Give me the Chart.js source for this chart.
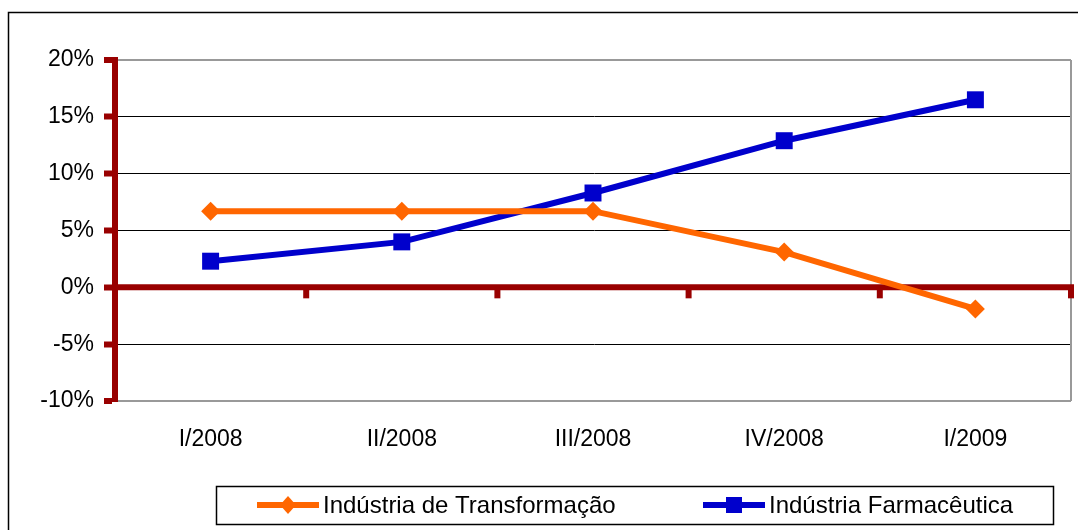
<!DOCTYPE html>
<html>
<head>
<meta charset="utf-8">
<script src="https://cdn.jsdelivr.net/npm/chart.js@4.4.1/dist/chart.umd.min.js"></script>
<style>
  html, body { margin: 0; padding: 0; background: #fff; }
  #wrap { position: relative; width: 1078px; height: 530px; }
</style>
</head>
<body>
<div id="wrap"><canvas id="c" width="1078" height="530"></canvas></div>
<script>
// Quarterly growth rates (%)
const quarters = ['I/2008', 'II/2008', 'III/2008', 'IV/2008', 'I/2009'];
const transformacao = [6.7, 6.7, 6.7, 3.1, -1.9];
const farmaceutica = [2.3, 4.0, 8.3, 12.9, 16.5];
const yTickValues = [-10, -5, 0, 5, 10, 15, 20];
const seriesNames = ['Indústria de Transformação', 'Indústria Farmacêutica'];

const AXIS_RED = '#990000';
const FONT = 'Liberation Sans, Arial, sans-serif';

// Frame around the whole chart object
const framePlugin = {
  id: 'frame',
  beforeDraw(chart) {
    const ctx = chart.ctx;
    ctx.save();
    ctx.strokeStyle = '#000';
    ctx.lineWidth = 1.5;
    ctx.strokeRect(8.5, 12.5, 1200, 700);
    ctx.restore();
  }
};

// Zero line with category tick marks, plus right edge of the plot area
const zeroAxisPlugin = {
  id: 'zeroAxis',
  beforeDatasetsDraw(chart) {
    const { ctx, chartArea, scales } = chart;
    const x = scales.x, y = scales.y;
    ctx.save();
    // right border of plot area
    ctx.strokeStyle = '#999';
    ctx.lineWidth = 2;
    ctx.beginPath();
    ctx.moveTo(chartArea.right, chartArea.top);
    ctx.lineTo(chartArea.right, chartArea.bottom);
    ctx.stroke();

    const y0 = y.getPixelForValue(0);
    ctx.strokeStyle = AXIS_RED;
    ctx.lineWidth = 6;
    ctx.beginPath();
    ctx.moveTo(chartArea.left, y0);
    ctx.lineTo(chartArea.right + 3, y0);
    ctx.stroke();
    // tick marks at category boundaries
    const step = (x.getPixelForValue(1) - x.getPixelForValue(0));
    ctx.lineWidth = 6;
    for (let i = 0; i < quarters.length; i++) {
      const bx = x.getPixelForValue(i) + step / 2;
      ctx.beginPath();
      ctx.moveTo(bx, y0);
      ctx.lineTo(bx, y0 + 11);
      ctx.stroke();
    }
    ctx.restore();
  }
};

// Boxed legend showing line + marker for each series
const boxLegendPlugin = {
  id: 'boxLegend',
  afterDraw(chart) {
    const ctx = chart.ctx;
    const box = { left: 216, top: 486, right: 1053, bottom: 524 };
    const cy = 505;
    ctx.save();
    ctx.strokeStyle = '#000';
    ctx.lineWidth = 1.5;
    ctx.strokeRect(box.left + 0.5, box.top + 0.5, box.right - box.left, box.bottom - box.top);

    const entries = [
      { x0: 257, x1: 319, tx: 323 },
      { x0: 703, x1: 765, tx: 769 }
    ];
    chart.data.datasets.forEach((ds, i) => {
      const e = entries[i];
      ctx.strokeStyle = ds.borderColor;
      ctx.lineWidth = 6;
      ctx.beginPath();
      ctx.moveTo(e.x0, cy);
      ctx.lineTo(e.x1, cy);
      ctx.stroke();
      const cx = (e.x0 + e.x1) / 2;
      ctx.fillStyle = ds.pointBackgroundColor;
      ctx.beginPath();
      if (ds.pointStyle === 'rectRot') {
        ctx.moveTo(cx, cy - 9);
        ctx.lineTo(cx + 8, cy);
        ctx.lineTo(cx, cy + 9);
        ctx.lineTo(cx - 8, cy);
        ctx.closePath();
      } else {
        ctx.rect(cx - 8, cy - 8, 16, 16);
      }
      ctx.fill();

      ctx.fillStyle = '#000';
      ctx.font = '24px ' + FONT;
      ctx.textBaseline = 'middle';
      ctx.textAlign = 'left';
      ctx.fillText(ds.label, e.tx, cy + 1);
    });
    ctx.restore();
  }
};

new Chart(document.getElementById('c'), {
  type: 'line',
  data: {
    labels: quarters,
    datasets: [
      {
        label: seriesNames[0],
        data: transformacao,
        borderColor: '#FF6600',
        backgroundColor: '#FF6600',
        pointBackgroundColor: '#FF6600',
        pointBorderColor: '#FF6600',
        pointStyle: 'rectRot',
        pointRadius: 9.5,
        pointBorderWidth: 0,
        borderWidth: 6,
        tension: 0,
        clip: false
      },
      {
        label: seriesNames[1],
        data: farmaceutica,
        borderColor: '#0000CC',
        backgroundColor: '#0000CC',
        pointBackgroundColor: '#0000CC',
        pointBorderColor: '#0000CC',
        pointStyle: 'rect',
        pointRadius: 12,
        pointBorderWidth: 0,
        borderWidth: 6,
        tension: 0,
        clip: false
      }
    ]
  },
  options: {
    responsive: false,
    animation: false,
    events: [],
    layout: { autoPadding: false, padding: { top: 60, right: 7, left: 0, bottom: 0 } },
    plugins: {
      legend: { display: false },
      tooltip: { enabled: false }
    },
    scales: {
      x: {
        type: 'category',
        offset: true,
        grid: { display: false, drawTicks: false },
        border: { display: false },
        ticks: {
          color: '#000',
          font: { family: FONT, size: 23 },
          padding: 25,
          maxRotation: 0
        },
        afterFit(scale) {
          scale.height = 129;
          scale.paddingLeft = 0;
          scale.paddingRight = 0;
        }
      },
      y: {
        min: yTickValues[0],
        max: yTickValues[yTickValues.length - 1],
        afterBuildTicks(scale) {
          scale.ticks = yTickValues.map(v => ({ value: v }));
        },
        grid: {
          color(ctx) {
            const v = ctx.tick && ctx.tick.value;
            if (v === 0) return 'rgba(0,0,0,0)';
            if (v === yTickValues[0] || v === yTickValues[yTickValues.length - 1]) return '#999';
            return '#000';
          },
          lineWidth(ctx) {
            const v = ctx.tick && ctx.tick.value;
            if (v === yTickValues[0] || v === yTickValues[yTickValues.length - 1]) return 2;
            return 1;
          },
          tickColor: AXIS_RED,
          tickWidth: 6,
          tickLength: 11
        },
        border: { display: true, color: AXIS_RED, width: 6 },
        ticks: {
          color: '#000',
          font: { family: FONT, size: 23 },
          padding: 10,
          callback: v => v + '%'
        },
        afterFit(scale) { scale.width = 115; }
      }
    }
  },
  plugins: [framePlugin, zeroAxisPlugin, boxLegendPlugin]
});
</script>
</body>
</html>
